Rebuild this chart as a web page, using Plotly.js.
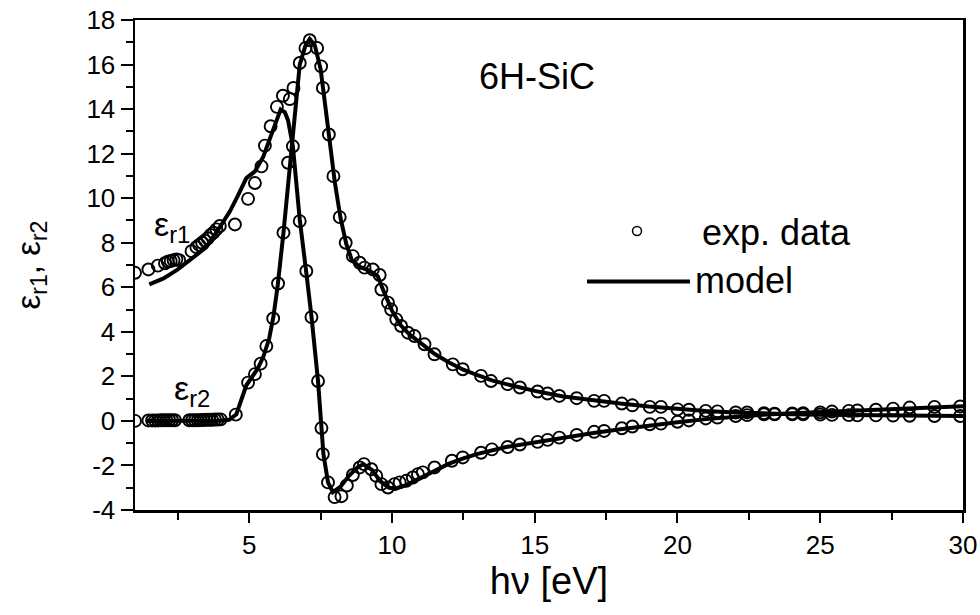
<!DOCTYPE html>
<html>
<head>
<meta charset="utf-8">
<script src="https://cdn.plot.ly/plotly-3.0.1.min.js"></script>
<style>html,body{margin:0;padding:0;background:#fff}#chart{width:980px;height:615px}</style>
</head>
<body>
<div id="chart"></div>
<script>
// experimental data, real part eps_r1
const expE1 = [1.0,1.47,1.8,2.05,2.15,2.25,2.35,2.45,2.55,2.98,3.15,3.25,3.35,3.45,3.55,3.65,3.75,3.85,3.97,4.5,4.96,5.2,5.43,5.55,5.75,5.97,6.18,6.42,6.55,6.36,6.77,7.0,7.18,7.41,7.53,7.58,7.76,7.99,8.23,8.42,8.63,8.87,9.02,9.28,9.45,9.63,9.86,10.09,10.27,10.5,10.73,10.91,11.08,11.49,12.1,12.48,13.12,13.5,14.05,14.48,15.1,15.45,15.86,16.47,17.08,17.43,18.05,18.42,19.03,19.42,20.0,20.4,20.99,21.4,22.04,22.44,23.03,23.4,24.02,24.4,25.0,25.41,26.0,26.3,26.95,27.55,28.13,29.0,29.9];
const expV1 = [6.65,6.8,6.97,7.08,7.15,7.18,7.22,7.25,7.22,7.62,7.8,7.9,8.0,8.1,8.2,8.35,8.45,8.6,8.75,8.82,9.97,10.68,11.43,12.36,13.23,14.1,14.6,14.45,14.95,11.59,8.97,6.73,4.66,1.79,-0.32,-1.49,-2.76,-3.42,-3.38,-2.9,-2.43,-2.09,-1.94,-2.17,-2.47,-2.84,-2.99,-2.84,-2.76,-2.69,-2.54,-2.39,-2.31,-2.09,-1.79,-1.64,-1.43,-1.28,-1.17,-1.06,-0.94,-0.85,-0.75,-0.63,-0.49,-0.45,-0.33,-0.25,-0.15,-0.12,-0.04,0.02,0.11,0.15,0.22,0.26,0.3,0.32,0.34,0.35,0.38,0.42,0.45,0.47,0.5,0.55,0.6,0.63,0.65];
// experimental data, imaginary part eps_r2
const expE2 = [1.0,1.47,1.6,1.7,1.8,1.9,2.0,2.1,2.2,2.3,2.4,2.9,3.0,3.1,3.2,3.3,3.4,3.5,3.6,3.7,3.8,3.9,4.0,4.53,4.96,5.2,5.4,5.6,5.84,6.01,6.2,6.53,6.77,6.97,7.12,7.38,7.52,7.58,7.79,7.95,8.17,8.38,8.63,8.87,9.04,9.33,9.57,9.63,9.86,9.97,10.15,10.32,10.56,10.79,11.14,11.49,12.13,12.48,13.12,13.47,14.05,14.48,15.1,15.45,15.86,16.47,17.08,17.43,18.05,18.42,19.03,19.42,20.0,20.4,20.99,21.4,22.04,22.44,23.03,23.4,24.02,24.4,25.0,25.41,26.0,26.3,26.95,27.55,28.13,29.0,29.9];
const expV2 = [0.0,0.02,0.02,0.02,0.02,0.03,0.03,0.03,0.03,0.03,0.03,0.03,0.03,0.03,0.03,0.04,0.04,0.05,0.05,0.05,0.06,0.06,0.07,0.28,1.72,2.1,2.57,3.36,4.6,6.17,8.45,12.33,16.07,16.74,17.09,16.74,15.92,14.95,12.86,10.99,9.15,8.0,7.4,7.1,6.88,6.8,6.55,5.9,5.31,5.0,4.56,4.26,3.96,3.81,3.44,2.99,2.54,2.32,2.02,1.79,1.65,1.5,1.32,1.23,1.12,1.02,0.9,0.9,0.78,0.7,0.63,0.63,0.52,0.5,0.45,0.43,0.38,0.38,0.35,0.3,0.3,0.3,0.28,0.27,0.26,0.25,0.25,0.24,0.23,0.22,0.22];
// model curves
const modE1 = [1.5,2.0,2.5,2.92,3.5,3.97,4.32,4.6,4.9,5.2,5.49,5.84,6.1,6.25,6.36,6.53,6.77,7.0,7.18,7.41,7.53,7.6,7.76,7.93,8.2,8.5,8.8,9.0,9.3,9.6,9.9,10.15,10.5,11.0,11.5,12.0,12.5,13.0,14.0,15.0,16.0,17.0,18.0,19.0,20.0,21.0,22.0,23.0,24.0,25.0,26.0,27.0,28.0,29.0,30.0];
const modV1 = [6.13,6.4,6.8,7.2,7.8,8.7,9.4,10.1,10.9,11.2,11.85,13.08,13.98,13.85,13.5,12.33,9.04,6.65,4.7,1.79,-0.3,-1.5,-2.76,-3.2,-2.95,-2.45,-2.08,-1.95,-2.2,-2.72,-3.0,-3.02,-2.88,-2.55,-2.22,-1.92,-1.68,-1.48,-1.17,-0.95,-0.74,-0.55,-0.37,-0.2,-0.06,0.08,0.2,0.28,0.34,0.4,0.46,0.52,0.58,0.63,0.66];
const modE2 = [1.4,2.0,3.0,4.0,4.3,4.55,4.9,5.1,5.3,5.5,5.7,5.85,6.0,6.2,6.5,6.77,6.97,7.12,7.3,7.5,7.6,7.8,8.0,8.2,8.4,8.6,8.9,9.2,9.5,9.7,10.0,10.3,10.6,11.0,11.5,12.0,12.5,13.0,13.5,14.0,15.0,16.0,17.0,18.0,19.0,20.0,21.0,22.0,23.0,24.0,25.0,26.0,27.0,28.0,29.0,30.0];
const modV2 = [0.0,0.0,0.0,0.02,0.05,0.3,1.6,2.0,2.35,2.9,3.7,4.7,6.1,8.45,12.3,16.0,16.85,17.15,16.85,15.8,14.8,12.8,10.7,9.1,7.95,7.2,6.9,6.75,6.5,5.85,4.95,4.3,3.9,3.5,3.0,2.62,2.3,2.05,1.82,1.65,1.35,1.1,0.92,0.78,0.65,0.53,0.45,0.38,0.33,0.3,0.28,0.26,0.24,0.23,0.22,0.22];
// tick labels
const yTickVals = [-4,-2,0,2,4,6,8,10,12,14,16,18];
const yTickText = ['-4','-2','0','2','4','6','8','10','12','14','16','18'];
const xTickVals = [5,10,15,20,25,30];
const xTickText = ['5','10','15','20','25','30'];

const FONT = 'Liberation Sans, Arial, Helvetica, sans-serif';
const mk = {symbol:'circle-open', size:12, color:'#000', line:{width:1.9, color:'#000'}};
const ln = {color:'#000', width:4};

const traces = [
  {x:modE1, y:modV1, mode:'lines', line:ln, name:'model', hoverinfo:'skip'},
  {x:modE2, y:modV2, mode:'lines', line:ln, name:'model', hoverinfo:'skip'},
  {x:expE1, y:expV1, mode:'markers', marker:mk, name:'exp. data'},
  {x:expE2, y:expV2, mode:'markers', marker:mk, name:'exp. data'}
];

const axisCommon = {
  showgrid:false, zeroline:false, showline:true, linecolor:'#000', linewidth:2.5,
  mirror:true, ticks:'outside', tickcolor:'#000', tickwidth:2,
  tickfont:{family:FONT, size:26, color:'#000'}
};

const layout = {
  width:980, height:615,
  margin:{l:135, r:17, t:20, b:105},
  paper_bgcolor:'#fff', plot_bgcolor:'#fff',
  showlegend:false,
  font:{family:FONT, color:'#000'},
  xaxis:Object.assign({}, axisCommon, {
    range:[1,30], tickmode:'array', tickvals:xTickVals, ticktext:xTickText, ticklen:10,
    minor:{dtick:2.5, tick0:0, ticks:'outside', ticklen:7, tickwidth:2, tickcolor:'#000', showgrid:false},
    title:{text:'hν [eV]', font:{family:FONT, size:38, color:'#000'}, standoff:8},
    automargin:false
  }),
  yaxis:Object.assign({}, axisCommon, {
    range:[-4,18], tickmode:'array', tickvals:yTickVals, ticktext:yTickText, ticklen:12,
    minor:{dtick:1, tick0:0, ticks:'outside', ticklen:7, tickwidth:2, tickcolor:'#000', showgrid:false},
    title:{text:'ε<sub>r1</sub>, ε<sub>r2</sub>', font:{family:FONT, size:33, color:'#000'}, standoff:36},
    automargin:false
  }),
  shapes:[
    {type:'circle', xref:'paper', yref:'paper', x0:0.6009, x1:0.6117, y0:0.5602, y1:0.5786, line:{color:'#000', width:1.5}},
    {type:'line', xref:'paper', yref:'paper', x0:0.5459, x1:0.6703, y0:0.4663, y1:0.4663, line:{color:'#000', width:4}}
  ],
  annotations:[
    {text:'6H-SiC', xref:'paper', yref:'paper', x:0.4855, y:0.8857, xanchor:'center', yanchor:'middle', showarrow:false, font:{family:FONT, size:36, color:'#000'}},
    {text:'exp. data', xref:'paper', yref:'paper', x:0.6824, y:0.567, xanchor:'left', yanchor:'middle', showarrow:false, font:{family:FONT, size:36, color:'#000'}},
    {text:'model', xref:'paper', yref:'paper', x:0.674, y:0.468, xanchor:'left', yanchor:'middle', showarrow:false, font:{family:FONT, size:36, color:'#000'}},
    {text:'ε<sub>r1</sub>', xref:'x', yref:'y', x:1.6, y:8.72, xanchor:'left', yanchor:'middle', showarrow:false, font:{family:FONT, size:34, color:'#000'}},
    {text:'ε<sub>r2</sub>', xref:'x', yref:'y', x:2.3, y:1.38, xanchor:'left', yanchor:'middle', showarrow:false, font:{family:FONT, size:34, color:'#000'}}
  ]
};

Plotly.newPlot('chart', traces, layout, {staticPlot:true, displayModeBar:false});
</script>
</body>
</html>
